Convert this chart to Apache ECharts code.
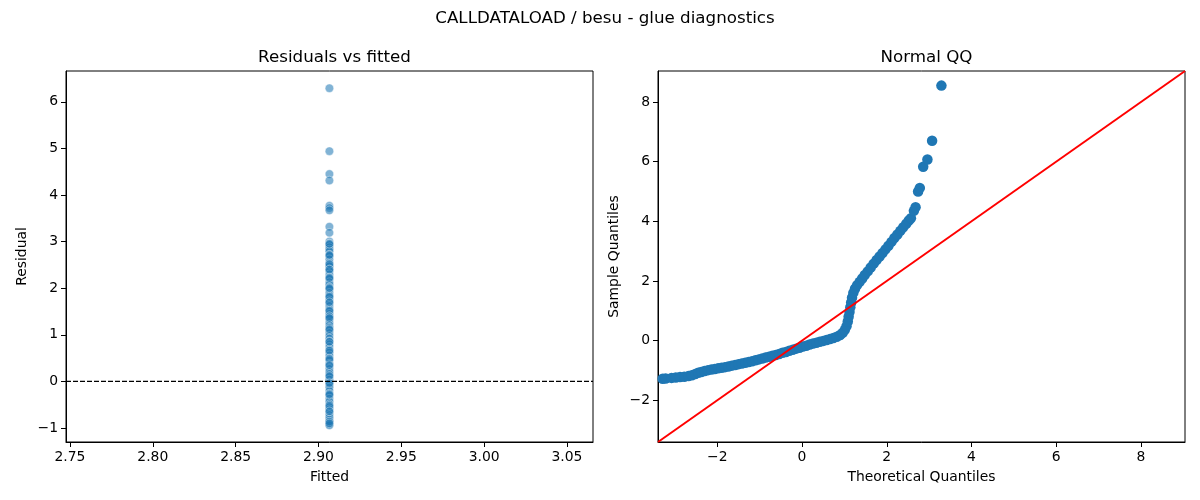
<!DOCTYPE html>
<html>
<head>
<meta charset="utf-8">
<script src="https://cdn.jsdelivr.net/npm/echarts@6/dist/echarts.min.js"></script>
<style>
html,body{margin:0;padding:0;background:#fff;}
#chart{width:1200px;height:500px;}
</style>
</head>
<body>
<div id="chart"></div>
<script>
// ---- Data ----
const suptitle = "CALLDATALOAD / besu - glue diagnostics";
const leftTitle = "Residuals vs fitted";
const rightTitle = "Normal QQ";

const fittedValue = 2.9066;
const residuals = [6.29, 4.94, 4.45, 4.31, 3.77, 3.72, 3.67, 3.32, 3.19,
  3.0, 2.96, 2.93, 2.88, 2.83, 2.79, 2.72, 2.69, 2.62, 2.55, 2.5, 2.47, 2.41, 2.37,
  2.3, 2.24, 2.2, 2.13, 2.08, 2.02, 1.98, 1.9, 1.85, 1.8, 1.74, 1.68, 1.62, 1.55,
  1.5, 1.45, 1.38, 1.34, 1.27, 1.21, 1.15, 1.1, 1.04, 0.98, 0.92, 0.86, 0.8, 0.74,
  0.68, 0.62, 0.56, 0.5, 0.45, 0.38, 0.33, 0.27, 0.21, 0.16, 0.1, 0.04, -0.02,
  -0.08, -0.13, -0.2, -0.26, -0.3, -0.37, -0.43, -0.49, -0.55, -0.6, -0.66, -0.72,
  -0.77, -0.82, -0.87, -0.92, -0.94,
  2.95, 2.71, 2.52, 2.4, 2.22, 2.0, 1.82, 1.7, 1.52, 1.4, 1.36, 1.12, 0.85, 0.66,
  0.48, 0.35, 0.12, -0.04, -0.28, -0.52, -0.64, -0.86, -0.9];

const theoretical = [-3.29, -3.22, -3.08, -2.98, -2.88, -2.78, -2.68, -2.6, -2.52, -2.45,
  -2.38, -2.3, -2.22, -2.14, -2.06, -1.98, -1.9, -1.82, -1.74, -1.66, -1.58, -1.5,
  -1.42, -1.34, -1.26, -1.18, -1.1, -1.02, -0.94, -0.86, -0.78, -0.7, -0.62, -0.54,
  -0.46, -0.38, -0.3, -0.22, -0.14, -0.06, 0.02, 0.1, 0.18, 0.26, 0.34, 0.42, 0.5,
  0.58, 0.66, 0.74, 0.82, 0.9, 0.96, 1.01, 1.05, 1.08, 1.1, 1.12, 1.14, 1.16, 1.18,
  1.21, 1.25, 1.3, 1.36, 1.42, 1.48, 1.55, 1.62, 1.69, 1.76, 1.83, 1.9, 1.97, 2.04,
  2.11, 2.18, 2.25, 2.32, 2.39, 2.46, 2.52, 2.57, 2.64, 2.68, 2.74, 2.78, 2.86, 2.96,
  3.07, 3.29];
const sample = [-1.28, -1.27, -1.25, -1.24, -1.22, -1.21, -1.19, -1.16, -1.12, -1.08,
  -1.05, -1.02, -0.99, -0.97, -0.95, -0.93, -0.91, -0.89, -0.87, -0.84, -0.82, -0.79,
  -0.77, -0.74, -0.72, -0.69, -0.66, -0.63, -0.6, -0.57, -0.54, -0.51, -0.48, -0.45,
  -0.41, -0.38, -0.34, -0.31, -0.27, -0.24, -0.2, -0.17, -0.13, -0.1, -0.07, -0.04,
  -0.01, 0.02, 0.05, 0.09, 0.13, 0.19, 0.26, 0.36, 0.48, 0.64, 0.8, 0.96, 1.12, 1.28,
  1.44, 1.6, 1.74, 1.86, 1.97, 2.08, 2.2, 2.32, 2.45, 2.58, 2.7, 2.82, 2.94, 3.06,
  3.18, 3.31, 3.44, 3.56, 3.68, 3.8, 3.92, 4.03, 4.1, 4.35, 4.47, 5.0, 5.12, 5.83,
  6.07, 6.7, 8.55];

const leftXTicks = [2.75, 2.80, 2.85, 2.90, 2.95, 3.00, 3.05];
const leftYTicks = [-1, 0, 1, 2, 3, 4, 5, 6];
const qqTicks = [-2, 0, 2, 4, 6, 8];

// ---- Chart ----
const FONT = 'DejaVu Sans';
const fmtMinus = v => (v < 0 ? '\u2212' + Math.abs(v) : String(v));

const lx = {min: 2.7476, max: 3.0657};
const ly = {min: -1.30, max: 6.66};
const qq = {min: -3.4, max: 9.04};

function axisCommon(ticks, formatter) {
  return {
    axisLine: {show: true, onZero: false, lineStyle: {color: '#000', width: 1}},
    axisTick: {show: true, inside: false, length: 5, lineStyle: {color: '#000', width: 1}, customValues: ticks},
    axisLabel: {color: '#000', fontFamily: FONT, fontSize: 13.9, margin: 8, customValues: ticks, formatter: formatter},
    splitLine: {show: false},
    nameTextStyle: {color: '#000', fontFamily: FONT, fontSize: 13.9},
    nameLocation: 'middle'
  };
}

const titleStyle = {fontFamily: FONT, fontSize: 16.7, fontWeight: 'normal', color: '#000'};

const chart = echarts.init(document.getElementById('chart'), null, {renderer: 'canvas'});
chart.setOption({
  backgroundColor: '#fff',
  animation: false,
  title: [
    {text: suptitle, left: 600, top: 5, textAlign: 'center', textStyle: titleStyle},
    {text: leftTitle, left: 329.5, top: 44, textAlign: 'center', textStyle: titleStyle},
    {text: rightTitle, left: 921.5, top: 44, textAlign: 'center', textStyle: titleStyle}
  ],
  grid: [
    {left: 66, top: 71, width: 527, height: 371, show: true, borderColor: '#000', borderWidth: 1, backgroundColor: 'transparent'},
    {left: 658, top: 71, width: 527, height: 371, show: true, borderColor: '#000', borderWidth: 1, backgroundColor: 'transparent'}
  ],
  xAxis: [
    Object.assign(axisCommon(leftXTicks, v => v.toFixed(2)), {
      type: 'value', gridIndex: 0, min: lx.min, max: lx.max, name: 'Fitted', nameGap: 28
    }),
    Object.assign(axisCommon(qqTicks, fmtMinus), {
      type: 'value', gridIndex: 1, min: qq.min, max: qq.max, name: 'Theoretical Quantiles', nameGap: 28
    })
  ],
  yAxis: [
    Object.assign(axisCommon(leftYTicks, fmtMinus), {
      type: 'value', gridIndex: 0, min: ly.min, max: ly.max, name: 'Residual', nameGap: 37
    }),
    Object.assign(axisCommon(qqTicks, fmtMinus), {
      type: 'value', gridIndex: 1, min: qq.min, max: qq.max, name: 'Sample Quantiles', nameGap: 37
    })
  ],
  series: [
    {
      type: 'line', xAxisIndex: 0, yAxisIndex: 0, symbol: 'none', silent: true,
      data: [[lx.min, 0], [lx.max, 0]],
      lineStyle: {color: '#000', width: 1.2, type: [5, 2]}, z: 3
    },
    {
      type: 'scatter', xAxisIndex: 0, yAxisIndex: 0, symbolSize: 8.5,
      data: residuals.map(r => [fittedValue, r]),
      itemStyle: {color: 'rgba(31,119,180,0.7)', borderColor: '#fff', borderWidth: 0.5},
      z: 2
    },
    {
      type: 'scatter', xAxisIndex: 1, yAxisIndex: 1, symbolSize: 10.5,
      data: theoretical.map((t, i) => [t, sample[i]]),
      itemStyle: {color: '#1f77b4', opacity: 1},
      z: 2
    },
    {
      type: 'line', xAxisIndex: 1, yAxisIndex: 1, symbol: 'none', silent: true,
      data: [[qq.min, qq.min], [qq.max, qq.max]],
      lineStyle: {color: '#ff0000', width: 2}, z: 3
    }
  ]
});
</script>
</body>
</html>
